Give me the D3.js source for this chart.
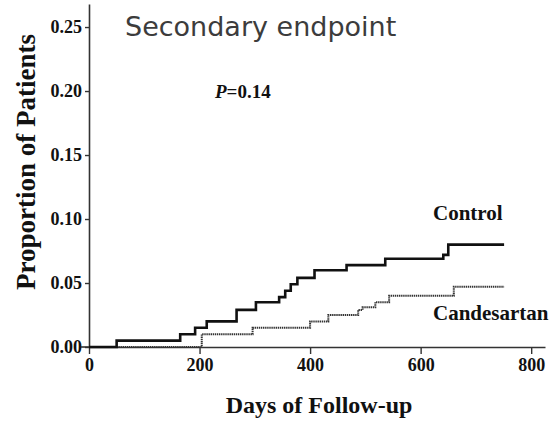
<!DOCTYPE html>
<html>
<head>
<meta charset="utf-8">
<script src="https://cdn.jsdelivr.net/npm/d3@7"></script>
<style>
  body { margin: 0; background: #fff; }
  svg { display: block; }
</style>
</head>
<body>
<svg id="chart"></svg>
<script>
let width = 552,
    height = 421;

// Kaplan-Meier style step data
const controlDays = [0, 50, 165, 192, 213, 267, 302, 344, 355, 365, 377, 408, 466, 536, 641, 650, 751];
const controlValues = [0, 0.005, 0.010, 0.015, 0.020, 0.029, 0.035, 0.039, 0.044, 0.049, 0.054, 0.060, 0.064, 0.069, 0.072, 0.080, 0.080];

const candDays = [0, 204, 296, 400, 433, 487, 495, 518, 543, 660, 751];
const candValues = [0, 0.010, 0.015, 0.020, 0.025, 0.029, 0.031, 0.035, 0.040, 0.047, 0.047];

const xTicks = [0, 200, 400, 600, 800];
const yTicks = [0, 0.05, 0.10, 0.15, 0.20, 0.25];

const serif = "'Liberation Serif', 'Times New Roman', serif";

let svg = d3.select("#chart").attr("width", width).attr("height", height);

let x = d3.scaleLinear().domain([0, 825]).range([89, 545]);
let y = d3.scaleLinear().domain([0, 0.268]).range([347, 4]);

// Axes
let xAxis = svg
    .append("g")
    .attr("transform", `translate(0, ${y(0)})`)
    .call(d3.axisBottom(x).tickValues(xTicks).tickSize(7).tickSizeOuter(0).tickPadding(4).tickFormat(d3.format("d")));

let yAxis = svg
    .append("g")
    .attr("transform", `translate(${x(0)}, 0)`)
    .call(d3.axisLeft(y).tickValues(yTicks).tickSize(4).tickSizeOuter(0).tickPadding(3).tickFormat(d3.format(".2f")));

[xAxis, yAxis].forEach((g) => {
    g.select(".domain").attr("stroke", "#333").attr("stroke-width", 1.6);
    g.selectAll(".tick line").attr("stroke", "#333").attr("stroke-width", 1.4);
    g.selectAll(".tick text")
        .attr("font-family", serif)
        .attr("font-weight", "bold")
        .attr("font-size", "18px")
        .attr("fill", "#111");
});

// small stub of the baseline left of the y axis
svg.append("line")
    .attr("x1", x(0) - 8).attr("x2", x(0))
    .attr("y1", y(0)).attr("y2", y(0))
    .attr("stroke", "#333").attr("stroke-width", 1.6);

// Curves
let line = d3.line()
    .x((d) => x(d[0]))
    .y((d) => y(d[1]))
    .curve(d3.curveStepAfter);

svg.append("path")
    .datum(candDays.map((d, i) => [d, candValues[i]]))
    .attr("d", line)
    .attr("fill", "none")
    .attr("stroke", "#333")
    .attr("stroke-width", 2)
    .attr("stroke-dasharray", "1.4,0.7");

svg.append("path")
    .datum(controlDays.map((d, i) => [d, controlValues[i]]))
    .attr("d", line)
    .attr("fill", "none")
    .attr("stroke", "#111")
    .attr("stroke-width", 2.6);

// Labels
svg.append("text")
    .attr("x", 433).attr("y", 220)
    .attr("font-family", serif).attr("font-weight", "bold").attr("font-size", "21px")
    .attr("fill", "#111")
    .text("Control");

svg.append("text")
    .attr("x", 433).attr("y", 320)
    .attr("font-family", serif).attr("font-weight", "bold").attr("font-size", "21px")
    .attr("fill", "#111")
    .text("Candesartan");

let pText = svg.append("text")
    .attr("x", 215).attr("y", 98)
    .attr("font-family", serif).attr("font-weight", "bold").attr("font-size", "19px")
    .attr("fill", "#111");
pText.append("tspan").attr("font-style", "italic").text("P");
pText.append("tspan").text("=0.14");

svg.append("text")
    .attr("x", (x(0) + x(825)) / 2 + 2).attr("y", 413)
    .attr("text-anchor", "middle")
    .attr("font-family", serif).attr("font-weight", "bold").attr("font-size", "24px")
    .attr("fill", "#111")
    .text("Days of Follow-up");

svg.append("text")
    .attr("transform", "translate(35, 162) rotate(-90)")
    .attr("text-anchor", "middle")
    .attr("font-family", serif).attr("font-weight", "bold").attr("font-size", "27px")
    .attr("fill", "#111")
    .text("Proportion of Patients");

svg.append("text")
    .attr("x", 125).attr("y", 36)
    .attr("font-family", "'DejaVu Sans', Verdana, sans-serif").attr("font-size", "27px")
    .attr("fill", "#3c3c3c")
    .text("Secondary endpoint");
</script>
</body>
</html>
